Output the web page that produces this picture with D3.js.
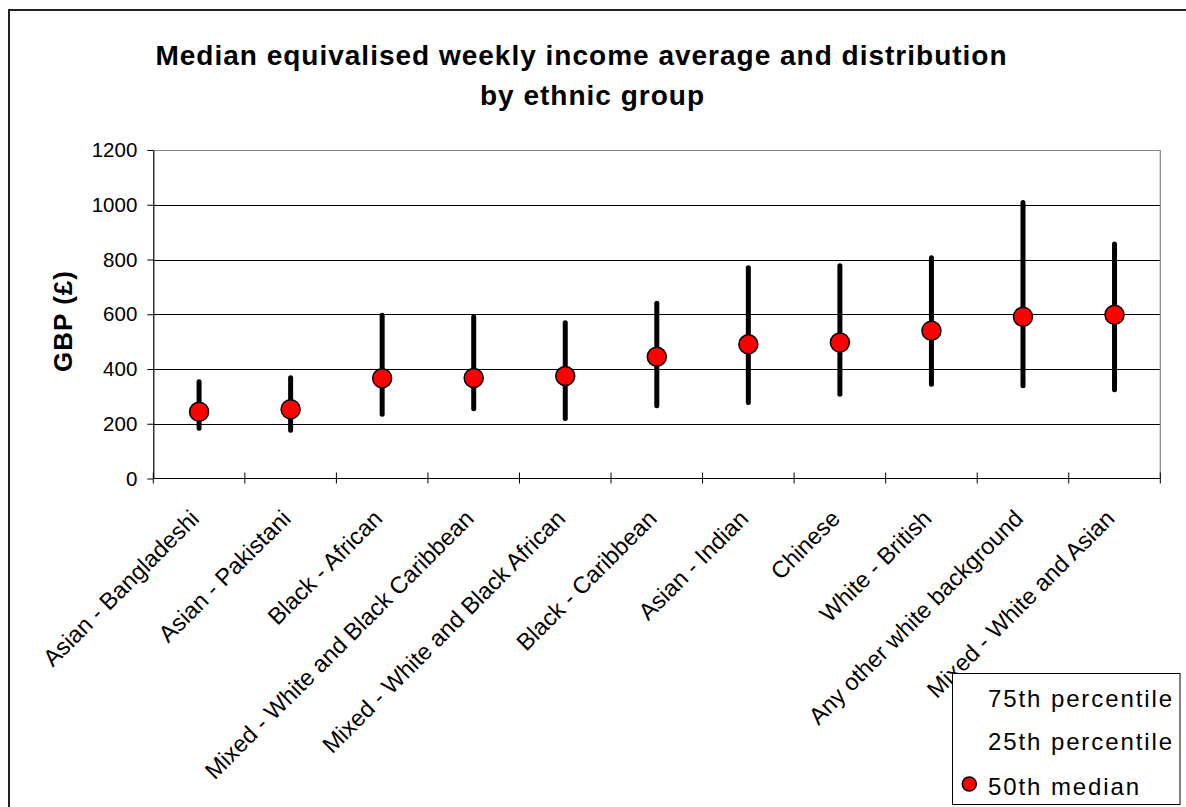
<!DOCTYPE html>
<html>
<head>
<meta charset="utf-8">
<script src="https://cdn.jsdelivr.net/npm/d3@7"></script>
<style>
  html, body { margin: 0; padding: 0; background: #fff; }
  svg { display: block; }
  svg text { font-family: "Liberation Sans", Arial, sans-serif; }
</style>
</head>
<body>
<svg id="chart" width="1186" height="807"></svg>
<script>
// Ethnic groups, ordered by median weekly income
const categories = [
  "Asian - Bangladeshi",
  "Asian - Pakistani",
  "Black - African",
  "Mixed - White and Black Caribbean",
  "Mixed - White and Black African",
  "Black - Caribbean",
  "Asian - Indian",
  "Chinese",
  "White - British",
  "Any other white background",
  "Mixed - White and Asian"
];
// Weekly equivalised income, GBP
const p75 = [353, 368, 596, 591, 569, 640, 770, 777, 806, 1008, 857];
const p25 = [184, 176, 235, 255, 219, 266, 278, 308, 344, 339, 324];
const median = [244, 253, 366, 367, 374, 445, 490, 497, 540, 591, 598];
const yTicks = [0, 200, 400, 600, 800, 1000, 1200];
const legendLabels = ["75th percentile", "25th percentile", "50th median"];

const svg = d3.select("#chart");
const W = 1186, H = 807;
const plot = { left: 153.3, right: 1160.3, top: 150, bottom: 478.5 };

svg.append("rect").attr("width", W).attr("height", H).attr("fill", "#fff");
// outer chart frame
svg.append("rect")
  .attr("x", 9).attr("y", 10).attr("width", W + 20).attr("height", H + 20)
  .attr("fill", "none").attr("stroke", "#222").attr("stroke-width", 2);

const x = d3.scaleBand().domain(categories).range([plot.left, plot.right]).padding(0);
const y = d3.scaleLinear().domain([0, 1200]).range([plot.bottom, plot.top]);

// title
const title = svg.append("g").attr("font-weight", "bold").attr("font-size", 28)
  .attr("letter-spacing", "1px").attr("text-anchor", "middle").attr("fill", "#000");
title.append("text").attr("x", 581.5).attr("y", 65)
  .text("Median equivalised weekly income average and distribution");
title.append("text").attr("x", 592.5).attr("y", 105).text("by ethnic group");

// horizontal gridlines
svg.append("g").selectAll("line")
  .data(yTicks.filter(v => v > 0 && v < 1200))
  .join("line")
  .attr("x1", plot.left).attr("x2", plot.right)
  .attr("y1", d => Math.round(y(d)) + 0.5).attr("y2", d => Math.round(y(d)) + 0.5)
  .attr("stroke", "#000").attr("stroke-width", 1);

// plot area border (top and right)
svg.append("path")
  .attr("d", `M${plot.left},${plot.top + 0.5}H${plot.right}V${plot.bottom}`)
  .attr("fill", "none").attr("stroke", "#888").attr("stroke-width", 1.2);

// y axis
const yAxis = d3.axisLeft(y).tickValues(yTicks).tickFormat(d3.format("d"))
  .tickSize(6).tickPadding(10).tickSizeOuter(0);
const gy = svg.append("g").attr("transform", `translate(${plot.left},0)`).call(yAxis);
gy.attr("font-family", null);
gy.select(".domain").attr("stroke", "#000").attr("stroke-width", 1.2);
gy.selectAll(".tick line").attr("stroke", "#000");
gy.selectAll(".tick text").attr("font-size", 20.5).attr("fill", "#000");

// x axis: ticks sit on the category boundaries
const boundaries = categories.map(c => x(c)).concat([plot.right]);
const gx = svg.append("g");
gx.append("line")
  .attr("x1", plot.left).attr("x2", plot.right)
  .attr("y1", plot.bottom).attr("y2", plot.bottom)
  .attr("stroke", "#000").attr("stroke-width", 1.2);
gx.selectAll("line.tick").data(boundaries).join("line").attr("class", "tick")
  .attr("x1", d => d).attr("x2", d => d)
  .attr("y1", plot.bottom - 6).attr("y2", plot.bottom + 5)
  .attr("stroke", "#000").attr("stroke-width", 1);

// rotated category labels
gx.selectAll("text").data(categories).join("text")
  .attr("transform", d => `translate(${x(d) + x.bandwidth() / 2 + 1.5},${plot.bottom + 41.5}) rotate(-45)`)
  .attr("text-anchor", "end")
  .attr("font-size", 23.5).attr("fill", "#000")
  .text(d => d);

// y axis title
svg.append("text")
  .attr("transform", "translate(72,321) rotate(-90)")
  .attr("text-anchor", "middle").attr("font-weight", "bold")
  .attr("font-size", 26).attr("letter-spacing", "1px").attr("fill", "#000")
  .text("GBP (£)");

// interquartile whiskers
const rows = categories.map((c, i) => ({ c, lo: p25[i], hi: p75[i], med: median[i] }));
const cx = d => x(d.c) + x.bandwidth() / 2;
svg.append("g").selectAll("line").data(rows).join("line")
  .attr("x1", cx).attr("x2", cx)
  .attr("y1", d => y(d.lo)).attr("y2", d => y(d.hi))
  .attr("stroke", "#000").attr("stroke-width", 5).attr("stroke-linecap", "round");

// medians
svg.append("g").selectAll("circle").data(rows).join("circle")
  .attr("cx", cx).attr("cy", d => y(d.med)).attr("r", 9.5)
  .attr("fill", "#ff0000").attr("stroke", "#000").attr("stroke-width", 1.5);

// legend
const lg = svg.append("g");
lg.append("rect").attr("x", 952.5).attr("y", 673.5).attr("width", 227.5).attr("height", 131)
  .attr("fill", "#fff").attr("stroke", "#000").attr("stroke-width", 1);
const legendY = [706.5, 750, 795];
lg.selectAll("text").data(legendLabels).join("text")
  .attr("x", 988).attr("y", (d, i) => legendY[i])
  .attr("font-size", 24).attr("letter-spacing", "1.9px").attr("fill", "#000")
  .text(d => d);
lg.append("circle").attr("cx", 969.3).attr("cy", 784).attr("r", 7)
  .attr("fill", "#ff0000").attr("stroke", "#000").attr("stroke-width", 1.5);
</script>
</body>
</html>
